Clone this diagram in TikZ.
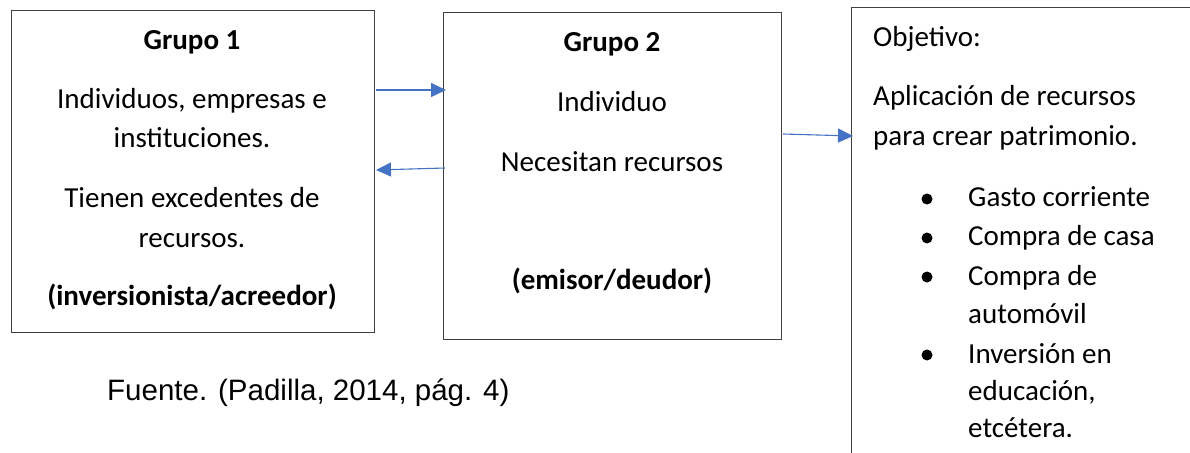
\documentclass[tikz,border=0pt]{standalone}
\usepackage{fontspec}
\setmainfont{Carlito}
\newfontfamily\arialfont{Liberation Sans}
\usetikzlibrary{arrows.meta}
\definecolor{arrblue}{HTML}{4472C4}
\definecolor{boxline}{HTML}{404040}
\tikzset{
  box/.style={draw=boxline, line width=1.2pt, rectangle, inner sep=0pt, anchor=north west},
  arr/.style={draw=arrblue, line width=1.1pt, -{Triangle[length=15pt,width=14pt]}},
  txt/.style={inner sep=0pt, anchor=base, font=\fontsize{29}{34}\selectfont},
  ltxt/.style={txt, anchor=base west},
  btxt/.style={txt, font=\fontsize{29}{34}\selectfont\bfseries},
  dot/.style={circle, fill=black, inner sep=0pt, minimum size=11pt}
}
\begin{document}
\begin{tikzpicture}[x=1pt,y=-1pt]
\useasboundingbox (0,0) rectangle (1190,452);
% boxes
\node[box, minimum width=363pt, minimum height=322pt] (g1) at (11,10) {};
\node[box, minimum width=338pt, minimum height=327pt] (g2) at (443,12) {};
\node[box, minimum width=360pt, minimum height=470pt] (g3) at (851,7) {};
% group 1 text
\node[btxt] (t11) at (192,49) {Grupo 1};
\node[txt] (t12) at (192,108) {Individuos, empresas e};
\node[txt] (t13) at (192,147) {instituciones.};
\node[txt] (t14) at (192,207) {Tienen excedentes de};
\node[txt] (t15) at (192,247) {recursos.};
\node[btxt] (t16) at (192,305) {(inversionista/acreedor)};
% group 2 text
\node[btxt] (t21) at (612,52) {Grupo 2};
\node[txt] (t22) at (612,111) {Individuo};
\node[txt] (t23) at (612,171) {Necesitan recursos};
\node[btxt] (t24) at (612,289) {(emisor/deudor)};
% objective text
\node[ltxt] (t31) at (873,46) {Objetivo:};
\node[ltxt] (t32) at (873,105) {Aplicación de recursos};
\node[ltxt] (t33) at (873,145) {para crear patrimonio.};
\node[ltxt] (i1) at (968,206) {Gasto corriente};
\node[ltxt] (i2) at (968,245) {Compra de casa};
\node[ltxt] (i3) at (968,285) {Compra de};
\node[ltxt] (i3b) at (968,323) {automóvil};
\node[ltxt] (i4) at (968,363) {Inversión en};
\node[ltxt] (i4b) at (968,400) {educación,};
\node[ltxt] (i4c) at (968,437) {etcétera.};
\node[dot] (b1) at (927,199) {};
\node[dot] (b2) at (927,238) {};
\node[dot] (b3) at (927,277) {};
\node[dot] (b4) at (927,355) {};
% source
\node[inner sep=0pt, anchor=base west, font=\arialfont\fontsize{29.5}{34}\selectfont] (src) at (107,400) {Fuente. (Padilla, 2014, pág. 4)};
% arrows
\coordinate (a1s) at (376,90);
\coordinate (a1e) at (446,90);
\coordinate (a2s) at (445,168);
\coordinate (a2e) at (376,170);
\coordinate (a3s) at (783,134);
\coordinate (a3e) at (853,136);
\draw[arr] (a1s) -- (a1e);
\draw[arr] (a2s) -- (a2e);
\draw[arr] (a3s) -- (a3e);
\end{tikzpicture}
\end{document}
